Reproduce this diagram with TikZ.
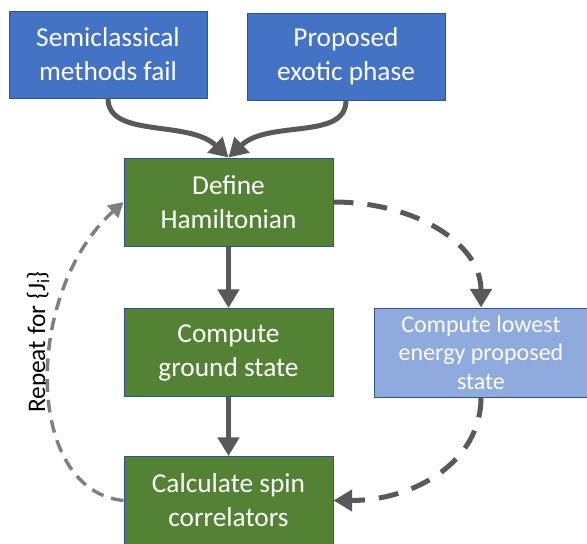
\documentclass[tikz,border=0pt]{standalone}
\usepackage{fontspec}
\setmainfont{Carlito}
\usetikzlibrary{arrows.meta}
\definecolor{boxblue}{HTML}{4472C4}
\definecolor{boxgreen}{HTML}{548235}
\definecolor{boxpale}{HTML}{8FAADC}
\definecolor{boxline}{HTML}{2F528F}
\definecolor{arrowgray}{HTML}{595959}
\definecolor{loopgray}{HTML}{7F7F7F}
\begin{document}
\begin{tikzpicture}[x=0.75pt,y=-0.75pt,
  box/.style={draw=boxline,line width=0.75pt,text=white,align=center,inner sep=2pt,font=\fontsize{20.5}{25.5}\selectfont},
  bluebox/.style={box,fill=boxblue,minimum width=148.5pt,minimum height=65.25pt},
  greenbox/.style={box,fill=boxgreen,minimum width=156.75pt,minimum height=66pt},
  palebox/.style={box,fill=boxpale,minimum width=159.75pt,minimum height=66.75pt,font=\fontsize{18}{21.5}\selectfont},
  flow/.style={draw=arrowgray,line width=3.75pt,-{Triangle[width=15.75pt,length=14pt]}},
  dashflow/.style={flow,dash pattern=on 15pt off 10.5pt},
  loopflow/.style={draw=loopgray,line width=2.6pt,dash pattern=on 9.5pt off 6pt,-{Triangle[width=12pt,length=11pt]}}]
            \useasboundingbox (0,0) rectangle (587,544);
            \node[bluebox] (semi) at (108,54.5) {Semiclassical\\methods fail};
            \node[bluebox] (exotic) at (346,56.5) {Proposed\\exotic phase};
            \node[greenbox] (ham) at (228.5,202) {Define\\Hamiltonian};
            \node[greenbox] (ground) at (228.5,352.5) {Compute\\ground state};
            \node[greenbox] (corr) at (228.5,500.5) {Calculate spin\\correlators};
            \node[palebox] (lowest) at (481,352.5) {Compute lowest\\energy proposed\\state};
            \node[rotate=90,font=\fontsize{19}{23}\selectfont] (repeat) at (38,342) {Repeat for \{J\textsubscript{i}\}};
            \draw[flow] (semi.south) .. controls +(0,40) and +(-40,-38) .. (ham.north);
            \draw[flow] (exotic.south) .. controls +(0,40) and +(40,-38) .. (ham.north);
            \draw[flow] (ham) -- (ground);
            \draw[flow] (ground) -- (corr);
            \draw[dashflow] (ham.east) .. controls +(80,0) and +(0,-65) .. (lowest.north);
            \draw[dashflow] (lowest.south) .. controls +(0,65) and +(80,0) .. (corr.east);
            \draw[loopflow] (corr.west) .. controls +(-100,-10) and +(-100,90) .. (ham.west);
        \end{tikzpicture}
\end{document}
